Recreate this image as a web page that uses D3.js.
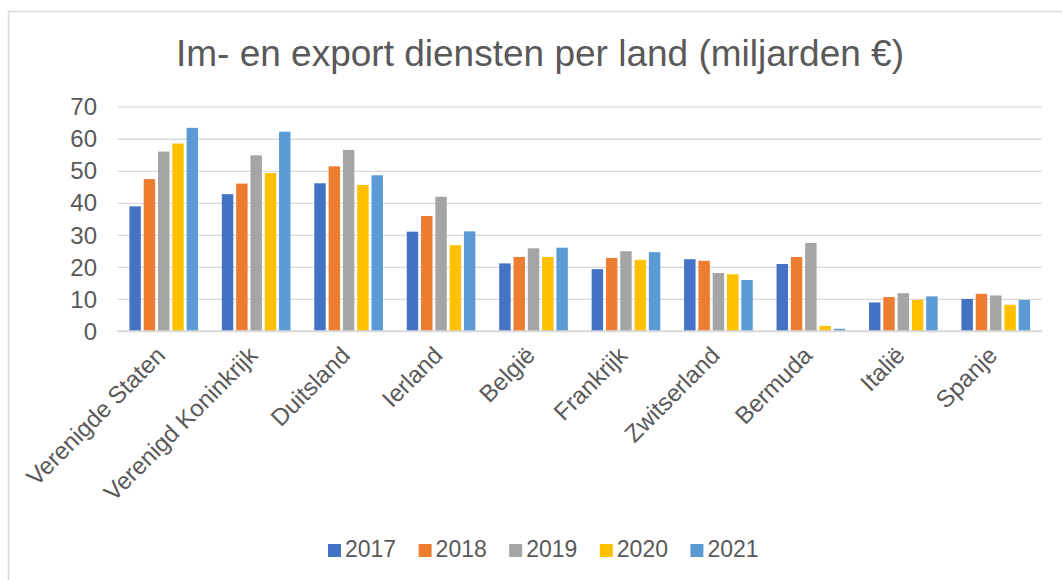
<!DOCTYPE html>
<html lang="nl">
<head>
<meta charset="utf-8">
<title>Im- en export diensten per land</title>
<style>
  body { margin:0; background:#fff; }
  svg text { font-family:"Liberation Sans", Arial, sans-serif; fill:#595959; }
  .grid line { stroke:#d9d9d9; stroke-width:1.3; }
  .grid path { display:none; }
</style>
</head>
<body>
<svg id="chart" width="1062" height="580"></svg>
<script src="https://cdnjs.cloudflare.com/ajax/libs/d3/7.8.5/d3.min.js"></script>
<script>
// data
var landen = ["Verenigde Staten", "Verenigd Koninkrijk", "Duitsland", "Ierland", "België",
              "Frankrijk", "Zwitserland", "Bermuda", "Italië", "Spanje"];
var jaren = ["2017", "2018", "2019", "2020", "2021"];
var v2017 = [38.9, 42.7, 46.1, 31.0, 21.1, 19.3, 22.4, 20.9, 8.9, 10.0];
var v2018 = [47.4, 46.0, 51.4, 35.9, 23.1, 22.8, 21.9, 23.1, 10.6, 11.6];
var v2019 = [56.0, 54.8, 56.5, 41.9, 25.8, 24.9, 18.1, 27.5, 11.8, 11.1];
var v2020 = [58.5, 49.3, 45.6, 26.8, 23.1, 22.2, 17.7, 1.6, 9.7, 8.2];
var v2021 = [63.4, 62.2, 48.6, 31.1, 26.0, 24.6, 15.9, 0.7, 10.8, 9.7];
var yTicks = [0, 10, 20, 30, 40, 50, 60, 70];
var kleuren = ["#4472C4", "#ED7D31", "#A5A5A5", "#FFC000", "#5B9BD5"];

var reeksen = [v2017, v2018, v2019, v2020, v2021];

var svg = d3.select("#chart");

// outer chart border
svg.append("rect")
  .attr("x", 8.5).attr("y", 11.5)
  .attr("width", 1080).attr("height", 600)
  .attr("fill", "none").attr("stroke", "#d9d9d9").attr("stroke-width", 1.5);

// title
svg.append("text")
  .attr("x", 540).attr("y", 66)
  .attr("text-anchor", "middle")
  .style("font-size", "37px")
  .text("Im- en export diensten per land (miljarden €)");

var plotLeft = 117.5, plotRight = 1042, plotTop = 106.7, plotBottom = 331;

var x0 = d3.scaleBand().domain(landen).range([plotLeft, plotRight]).padding(0);
var x1 = d3.scaleBand().domain(jaren)
  .range([11.9, x0.bandwidth() - 11.9]).paddingInner(0.2);
var y = d3.scaleLinear().domain([0, 70]).range([plotBottom, plotTop]);

// gridlines
svg.append("g")
  .attr("class", "grid")
  .attr("transform", "translate(" + plotLeft + ",0)")
  .call(d3.axisLeft(y).tickValues(yTicks).tickSize(-(plotRight - plotLeft)).tickFormat(""));

// y labels
svg.append("g").selectAll("text")
  .data(yTicks)
  .enter().append("text")
  .attr("x", 97)
  .attr("y", function(d){ return y(d); })
  .attr("dy", "0.36em")
  .attr("text-anchor", "end")
  .style("font-size", "24px")
  .text(function(d){ return d; });

// bars
var groep = svg.append("g").selectAll("g")
  .data(landen)
  .enter().append("g")
  .attr("transform", function(d){ return "translate(" + x0(d) + ",0)"; });

groep.selectAll("rect")
  .data(function(d, i){ return jaren.map(function(j, k){ return {jaar:j, k:k, v:reeksen[k][i]}; }); })
  .enter().append("rect")
  .attr("x", function(d){ return x1(d.jaar); })
  .attr("y", function(d){ return y(d.v); })
  .attr("width", x1.bandwidth())
  .attr("height", function(d){ return y(0) - y(d.v); })
  .attr("fill", function(d){ return kleuren[d.k]; });

// baseline
svg.append("line")
  .attr("x1", plotLeft).attr("x2", plotRight)
  .attr("y1", y(0)).attr("y2", y(0))
  .attr("stroke", "#d9d9d9").attr("stroke-width", 1.5);

// x labels, rotated
svg.append("g").selectAll("text")
  .data(landen)
  .enter().append("text")
  .attr("transform", function(d){
    return "translate(" + (x0(d) + x0.bandwidth()/2 - 9) + "," + (plotBottom + 14) + ") rotate(-45)";
  })
  .attr("text-anchor", "end")
  .attr("dy", "0.7em")
  .style("font-size", "24px")
  .text(function(d){ return d; });

// legend
var legenda = svg.append("g").selectAll("g")
  .data(jaren)
  .enter().append("g")
  .attr("transform", function(d, i){ return "translate(" + (328 + i*90.6) + ",544)"; });
legenda.append("rect")
  .attr("width", 13).attr("height", 13)
  .attr("fill", function(d, i){ return kleuren[i]; });
legenda.append("text")
  .attr("x", 17).attr("y", 13)
  .style("font-size", "23px")
  .text(function(d){ return d; });
</script>
</body>
</html>
